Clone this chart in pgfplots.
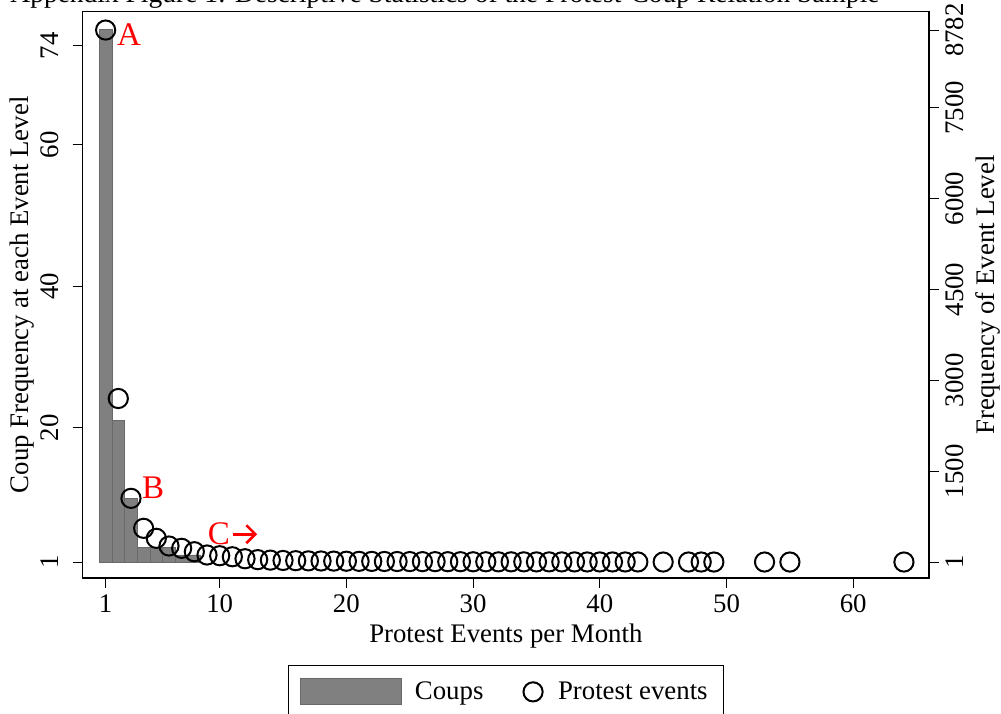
\documentclass[border=0pt]{standalone}
\usepackage{fontspec}
\setmainfont{Liberation Serif}
\usepackage{pgfplots}
\usepackage{pgfplotstable}
\usetikzlibrary{arrows.meta}
\pgfplotsset{compat=1.18}
\definecolor{barfill}{RGB}{128,128,128}
\definecolor{baredge}{RGB}{105,105,105}
\newcommand{\fs}{\fontsize{13.4}{16}\selectfont}
\newcommand{\ft}{\fontsize{13.75}{16}\selectfont}
\newcommand{\fa}{\fontsize{16.5}{19}\selectfont}

\pgfplotstableread{
x c
1 76.3
2 21
3 10
4 3
5 3
6 3
7 2
8 2
}\coups

\pgfplotstableread{
x f
1 8782
2 2700
3 1052
4 557
5 392
6 265
7 227
8 171
9 117
10 105
11 88
12 55
13 40
14 32
15 27
16 23
17 20
18 18
19 16
20 14
21 12
22 11
23 10
24 9
25 8
26 7
27 7
28 6
29 6
30 5
31 5
32 4
33 4
34 4
35 3
36 3
37 3
38 3
39 2
40 2
41 2
42 2
43 2
45 1
47 1
48 1
49 1
53 1
55 1
64 1
}\protest

\pgfplotsset{
  common/.style={
    at={(0pt,0pt)}, anchor=south west,
    scale only axis, width=423.15pt, height=283.15pt,
    xmin=-0.81, xmax=65.98,
    tick align=outside, major tick length=5pt,
    tick style={black, line width=0.5pt},
    axis line style={line width=0.6pt},
    tick label style={font=\fs},
    label style={font=\fs},
    /pgf/number format/assume math mode=true,
    scaled ticks=false,
  }
}

\begin{document}
\begin{tikzpicture}
\useasboundingbox (-41.35pt,-67.5pt) rectangle (459.15pt,289pt);
\node[anchor=base west, font=\ft, inner sep=0pt] at (-36.35pt,287.8pt) {Appendix Figure 1: Descriptive Statistics of the Protest-Coup Relation Sample};
\begin{axis}[common,
  ymin=-2.263, ymax=77.84,
  xtick pos=bottom, ytick pos=left,
  xtick={1,10,20,30,40,50,60},
  ytick={0,19,39,59,73}, yticklabels={1,20,40,60,74},
  yticklabel style={rotate=90, anchor=south, yshift=3.5pt},
  xlabel={Protest Events per Month},
  ylabel={Coup Frequency at each Event Level},
  xlabel style={at={(axis description cs:0.5,-0.1024)}, anchor=center},
  ylabel style={at={(axis description cs:-0.0717,0.5)}, anchor=center},
]
\addplot[ybar, bar width=1, bar shift=0pt, fill=barfill, draw=baredge, line width=0.4pt]
  table[x=x, y expr=\thisrow{c}-1] {\coups};
\end{axis}
\begin{axis}[common,
  ymin=-263, ymax=9085,
  axis x line=none, axis y line*=right,
  ytick={1,1500,3000,4500,6000,7500,8782},
  yticklabels={1,1500,3000,4500,6000,7500,8782},
  yticklabel style={rotate=90, anchor=north},
  ylabel={Frequency of Event Level},
  ylabel style={at={(axis description cs:1.0697,0.5)}, anchor=center},
  legend style={at={(axis description cs:0.5,-0.1536)}, anchor=north,
    draw=black, line width=0.5pt, font=\fs, legend columns=2,
    inner xsep=6pt, inner ysep=6pt,
    /tikz/every even column/.append style={column sep=18pt}},
]
\addlegendimage{legend image code/.code={\fill[barfill,draw=baredge,line width=0.4pt] (0pt,-6.5pt) rectangle (50.5pt,6.5pt); \path (55pt,0pt);}}
\addlegendentry{Coups}
\addplot[only marks, mark=o, mark size=4.8pt, line width=1pt, black,
  legend image code/.code={\draw[black, line width=1pt, mark=o, mark size=4.8pt, only marks] plot coordinates {(5.5pt,0pt)}; \path (15.5pt,0pt);}]
  table[x=x, y=f] {\protest};
\addlegendentry{Protest events}
\node[red, font=\fa] at (axis cs:2.84,8700) {A};
\node[red, font=\fa] at (axis cs:4.74,1230) {B};
\node[red, font=\fa, inner sep=0pt] (C) at (axis cs:9.93,460) {C};
\draw[red, line width=1.3pt, -{Straight Barb[length=4.5pt, width=9pt, line width=1.3pt]}]
  ([xshift=1.5pt]C.east) -- ++(12pt,0pt);
\end{axis}
\end{tikzpicture}
\end{document}
